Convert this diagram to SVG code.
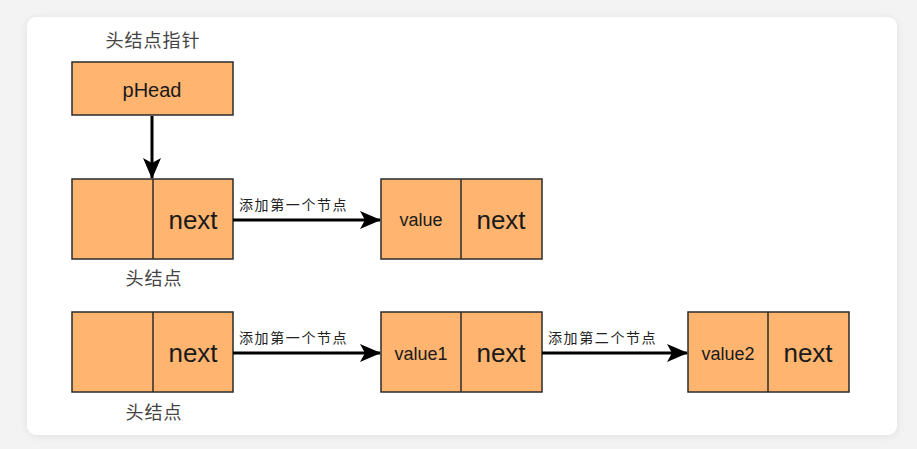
<svg xmlns="http://www.w3.org/2000/svg" width="917" height="449" viewBox="0 0 917 449">
<defs>
<filter id="sh" x="-5%" y="-5%" width="110%" height="110%"><feGaussianBlur stdDeviation="4"/></filter>
<marker id="arr" markerWidth="22" markerHeight="20" refX="20" refY="10" orient="auto" markerUnits="userSpaceOnUse"><path d="M0,1 L21,10 L0,19 L5,10 Z" fill="#000"/></marker>
</defs>
<style>
.box{fill:#ffb570;stroke:#2b2b2b;stroke-width:1.5}
.div{stroke:#2b2b2b;stroke-width:1.5}
.lbl{font-family:"Noto Sans CJK SC","Liberation Sans",sans-serif;fill:#444}
.el{font-family:"Noto Sans CJK SC","Liberation Sans",sans-serif;fill:#222;font-size:14px;letter-spacing:1.6px}
.t{font-family:"Liberation Sans",Arial,sans-serif;fill:#1a1a1a;text-anchor:middle}
.conn{stroke:#000;stroke-width:3;fill:none;marker-end:url(#arr)}
</style>
<rect width="917" height="449" fill="#f3f3f3"/>
<rect x="27" y="18" width="870" height="418" rx="9" fill="#000" opacity="0.08" filter="url(#sh)"/>
<rect x="27" y="17" width="870" height="418" rx="9" fill="#fff"/>
<text class="lbl" x="153" y="47" font-size="18" text-anchor="middle" letter-spacing="1">头结点指针</text>
<g id="phead">
<rect class="box" x="72" y="62" width="161" height="53"/>
<text class="t" x="152" y="97" font-size="20">pHead</text>
</g>
<g id="head1">
<rect class="box" x="72" y="179" width="161" height="80"/>
<line class="div" x1="153" y1="179" x2="153" y2="259"/>
<text class="t" x="193" y="229" font-size="26">next</text>
<text class="lbl" x="154" y="285" font-size="18" text-anchor="middle" letter-spacing="1">头结点</text>
</g>
<g id="node1">
<rect class="box" x="381" y="179" width="161" height="80"/>
<line class="div" x1="461" y1="179" x2="461" y2="259"/>
<text class="t" x="421" y="226" font-size="18">value</text>
<text class="t" x="501" y="229" font-size="26">next</text>
</g>
<g id="head2">
<rect class="box" x="72" y="312" width="161" height="80"/>
<line class="div" x1="153" y1="312" x2="153" y2="392"/>
<text class="t" x="193" y="362" font-size="26">next</text>
<text class="lbl" x="154" y="419" font-size="18" text-anchor="middle" letter-spacing="1">头结点</text>
</g>
<g id="node2a">
<rect class="box" x="381" y="312" width="161" height="80"/>
<line class="div" x1="461" y1="312" x2="461" y2="392"/>
<text class="t" x="421" y="360" font-size="18">value1</text>
<text class="t" x="501" y="362" font-size="26">next</text>
</g>
<g id="node2b">
<rect class="box" x="688" y="312" width="161" height="80"/>
<line class="div" x1="768" y1="312" x2="768" y2="392"/>
<text class="t" x="728" y="360" font-size="18">value2</text>
<text class="t" x="808" y="362" font-size="26">next</text>
</g>
<g id="connectors">
<line class="conn" x1="152" y1="116" x2="152" y2="178"/>
<line class="conn" x1="233" y1="220" x2="380" y2="220"/>
<line class="conn" x1="233" y1="353" x2="380" y2="353"/>
<line class="conn" x1="542" y1="353" x2="687" y2="353"/>
<text class="el" x="239" y="210">添加第一个节点</text>
<text class="el" x="239" y="343">添加第一个节点</text>
<text class="el" x="548" y="343">添加第二个节点</text>
</g>
</svg>
